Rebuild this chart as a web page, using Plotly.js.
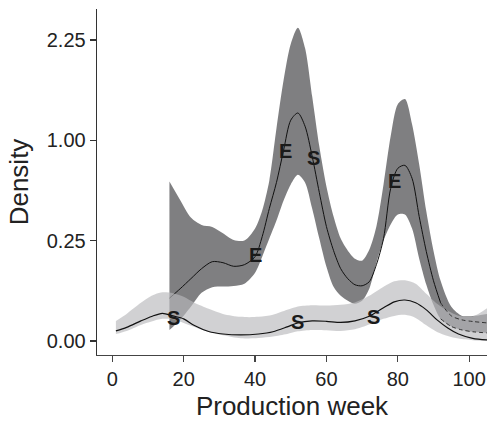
<!DOCTYPE html>
<html>
<head>
<meta charset="utf-8">
<script src="https://cdn.plot.ly/plotly-3.0.1.min.js"></script>
<style>html,body{margin:0;padding:0;background:#fff;}#chart{width:497px;height:427px;}</style>
</head>
<body>
<div id="chart"></div>
<script>
// ---- Data (density values; the y axis uses a square-root scale) ----
const eWeek = [16,19,22,25,28,31,34,37,40,42,44,46,48,50,52,54,56,58,60,62,64,66,68,70,72,74,76,78,80,82,84,86,88,90,92,95,98,101,105];
const eMid  = [0.0454,0.0676,0.0961,0.1296,0.156,0.1521,0.1384,0.1444,0.1764,0.2704,0.4356,0.6241,0.9025,1.21,1.29,1.145,0.8464,0.5476,0.3249,0.2025,0.1296,0.0961,0.0784,0.0756,0.087,0.1444,0.2601,0.5776,0.7396,0.7656,0.6561,0.3844,0.198,0.09,0.0361,0.0156,0.011,0.0094,0.0081];
const eUpper = [0.632,0.494,0.378,0.334,0.323,0.288,0.253,0.25,0.314,0.423,0.64,1.124,1.69,2.19,2.434,2.132,1.488,0.941,0.593,0.384,0.26,0.2025,0.168,0.16,0.206,0.325,0.608,1.04,1.392,1.452,1.166,0.774,0.416,0.2025,0.09,0.0289,0.0156,0.0156,0.0182];
const eLower = [0.003,0.011,0.0289,0.0576,0.0718,0.0734,0.0751,0.0812,0.1156,0.1764,0.2601,0.36,0.49,0.6084,0.6856,0.6241,0.4356,0.2601,0.1369,0.0729,0.0506,0.04,0.0342,0.04,0.0676,0.1521,0.25,0.3364,0.3969,0.3969,0.3136,0.1681,0.0784,0.0324,0.0121,0.0052,0.003,0.0021,0.0016];

const sWeek = [1,4,8,11,14,17,20,23,27,31,36,41,45,49,52,56,60,64,68,72,76,79,82,85,88,91,94,97,101,105];
const sMid  = [0.0025,0.0046,0.01,0.0149,0.019,0.0156,0.0121,0.0059,0.0022,0.0012,0.0009,0.0012,0.0021,0.0049,0.0081,0.01,0.0096,0.0085,0.01,0.0151,0.0272,0.038,0.0416,0.0361,0.024,0.011,0.0042,0.0012,0.00017,0.000025];
const sUpper = [0.01,0.0182,0.0361,0.0506,0.0586,0.0566,0.0484,0.0361,0.0256,0.0182,0.0144,0.0144,0.0169,0.024,0.0296,0.0317,0.031,0.0324,0.0369,0.0506,0.0729,0.0882,0.0912,0.0812,0.0552,0.0342,0.0225,0.0159,0.0149,0.0266];
const sLower = [0.0012,0.0025,0.0064,0.0094,0.0121,0.0117,0.0081,0.0049,0.002,0.0008,0.00017,0.00023,0.0005,0.0012,0.0023,0.003,0.0029,0.0025,0.0034,0.0067,0.0121,0.0156,0.0169,0.0132,0.0061,0.002,0.0006,0.00014,0.000016,0];

const labelText = ['S','E','E','S','E','S','S'];
const labelWeek = [17,40,48.4,56.3,79.2,51.9,73.1];
const labelDensity = [0.0132,0.183,0.897,0.828,0.635,0.009,0.0144];

const xTicks = [0,20,40,60,80,100];
const yTickDensities = [0,0.25,1,2.25];
const xTitle = 'Production week';
const yTitle = 'Density';
const tailStartWeek = 92;

// ---- sqrt scale ----
const r = a => a.map(v => Math.sqrt(v));
const tailIdx = eWeek.indexOf(tailStartWeek);

const DARK = '#7f7f81';
const LIGHT = 'rgba(185,185,187,0.65)';
const FONT = 'Liberation Sans, Arial, Helvetica, sans-serif';

const traces = [
  {x: eWeek, y: r(eLower), mode: 'lines', line: {width: 0, shape: 'spline', smoothing: 0.8}, hoverinfo: 'skip', showlegend: false},
  {x: eWeek, y: r(eUpper), mode: 'lines', fill: 'tonexty', fillcolor: DARK, line: {width: 0, shape: 'spline', smoothing: 0.8}, hoverinfo: 'skip', showlegend: false},
  {x: eWeek.slice(0, tailIdx + 1), y: r(eMid.slice(0, tailIdx + 1)), mode: 'lines', line: {color: '#111', width: 1, shape: 'spline', smoothing: 0.8}, showlegend: false},
  {x: sWeek, y: r(sLower), mode: 'lines', line: {width: 0, shape: 'spline', smoothing: 0.8}, hoverinfo: 'skip', showlegend: false},
  {x: sWeek, y: r(sUpper), mode: 'lines', fill: 'tonexty', fillcolor: LIGHT, line: {width: 0, shape: 'spline', smoothing: 0.8}, hoverinfo: 'skip', showlegend: false},
  {x: sWeek, y: r(sMid), mode: 'lines', line: {color: '#111', width: 1.2, shape: 'spline', smoothing: 0.8}, showlegend: false},
  {x: eWeek.slice(tailIdx), y: r(eMid.slice(tailIdx)), mode: 'lines', line: {color: '#333', width: 1, dash: '4px,3px', shape: 'spline', smoothing: 0.8}, showlegend: false},
  {x: eWeek.slice(tailIdx), y: r(eLower.slice(tailIdx)), mode: 'lines', line: {color: '#333', width: 1, dash: '4px,3px', shape: 'spline', smoothing: 0.8}, showlegend: false}
];

const annotations = labelText.map((t, i) => ({
  x: labelWeek[i], y: Math.sqrt(labelDensity[i]), text: '<b>' + t + '</b>', showarrow: false,
  font: {family: FONT, size: 20, color: '#1a1a1a'}, xanchor: 'center', yanchor: 'middle'
}));

const layout = {
  width: 497, height: 427,
  margin: {l: 97, r: 10, t: 9, b: 72},
  paper_bgcolor: '#fff', plot_bgcolor: '#fff',
  font: {family: FONT, color: '#222'},
  showlegend: false,
  xaxis: {
    range: [-4.3, 105], tickvals: xTicks, ticktext: xTicks.map(String),
    showgrid: false, zeroline: false, showline: true, linecolor: '#444', linewidth: 1.3,
    ticks: 'outside', ticklen: 6, tickcolor: '#444', tickwidth: 1.2,
    tickfont: {family: FONT, size: 20, color: '#222'},
    title: {text: xTitle, font: {family: FONT, size: 26, color: '#222'}, standoff: 7}
  },
  yaxis: {
    range: [-0.07, 1.654], tickvals: yTickDensities.map(Math.sqrt), ticktext: yTickDensities.map(v => v.toFixed(2)),
    showgrid: false, zeroline: false, showline: true, linecolor: '#333', linewidth: 1.3,
    ticks: 'outside', ticklen: 6, tickcolor: '#333', tickwidth: 1.2,
    tickfont: {family: FONT, size: 20, color: '#222'},
    title: {text: yTitle, font: {family: FONT, size: 26, color: '#222'}, standoff: 10}
  },
  annotations: annotations
};

Plotly.newPlot('chart', traces, layout, {staticPlot: true, displayModeBar: false});
</script>
</body>
</html>
